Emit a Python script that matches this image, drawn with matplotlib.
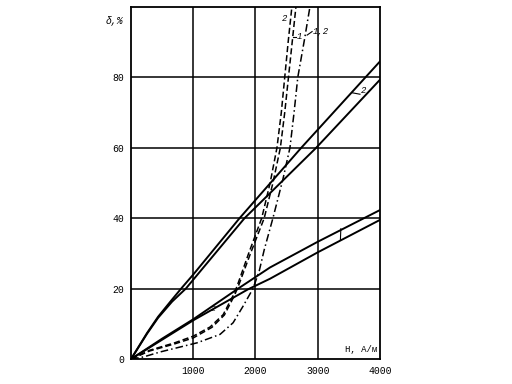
import matplotlib
matplotlib.use("Agg")
import matplotlib.pyplot as plt

# Solid curves (upper pair)
a_x = [0, 257, 434, 659, 819, 1000, 1744, 2736, 4000]
a_y = [0, 7.4, 12, 16.9, 20.3, 24, 40, 60, 84.5]
b_x = [0, 257, 434, 659, 880, 1824, 2976, 4000]
b_y = [0, 7.2, 11.7, 16.3, 20, 40, 60, 79.3]
# Solid curves (lower pair)
c_x = [0, 500, 1000, 1720, 2233, 3000, 4000]
c_y = [0, 5.8, 11.3, 20, 26, 33.3, 42.3]
d_x = [0, 1000, 1880, 2233, 3000, 4000]
d_y = [0, 11.0, 19.8, 22.8, 30.3, 39.5]
# Dashed curves
e2_x = [0, 300, 700, 1000, 1270, 1480, 1640, 1700, 1890, 2100, 2235, 2290, 2345, 2415, 2470, 2525, 2585]
e2_y = [0, 2.5, 4.6, 6.5, 9.1, 12.6, 18, 20.5, 30, 40, 50, 55, 60, 70, 80, 90, 100]
e1_x = [0, 300, 700, 1000, 1300, 1500, 1660, 1720, 1920, 2140, 2280, 2340, 2400, 2470, 2530, 2590, 2650]
e1_y = [0, 2.3, 4.3, 6.0, 9, 12.5, 18, 20.5, 30, 40, 50, 55, 60, 70, 80, 90, 100]
# Dash-dot curve
f_x = [0, 200, 465, 1060, 1430, 1640, 1800, 1960, 2060, 2140, 2280, 2440, 2554, 2620, 2680, 2790, 2875]
f_y = [0, 0.6, 2, 4.6, 7, 10.3, 15, 20, 25, 31, 40, 51, 60, 70, 80, 91, 100]

xticks = [1000, 2000, 3000, 4000]
yticks = [0, 20, 40, 60, 80]

font = "Liberation Mono"
fig = plt.figure(figsize=(5.12, 3.84), dpi=100)
ax = fig.add_axes([0.256, 0.065, 0.486, 0.917])
ax.set_xlim(0, 4000)
ax.set_ylim(0, 100)

for v in [1000, 2000, 3000]:
    ax.axvline(v, color="black", lw=1.1, zorder=1)
for v in [20, 40, 60, 80]:
    ax.axhline(v, color="black", lw=1.1, zorder=1)

lw = 1.4
ax.plot(a_x, a_y, color="black", lw=lw)
ax.plot(b_x, b_y, color="black", lw=lw)
ax.plot(c_x, c_y, color="black", lw=lw)
ax.plot(d_x, d_y, color="black", lw=lw)
ax.plot(e2_x, e2_y, color="black", lw=1.1, ls=(0, (4, 2)))
ax.plot(e1_x, e1_y, color="black", lw=1.1, ls=(0, (4, 2)))
ax.plot(f_x, f_y, color="black", lw=1.1, ls=(0, (5, 2, 1, 2)))

for s in ax.spines.values():
    s.set_linewidth(1.3)
ax.set_xticks(xticks)
ax.set_yticks(yticks)
ax.set_xticklabels([str(t) for t in xticks], fontfamily=font, fontsize=7)
ax.set_yticklabels([str(t) for t in yticks], fontfamily=font, fontsize=7)
ax.tick_params(length=0, pad=5)

ax.text(-130, 96, "δ,%", ha="right", va="center", fontsize=7, style="italic", fontfamily=font, clip_on=False)
ax.text(3950, 2.8, "Н, А/м", ha="right", va="center", fontsize=6.5, fontfamily=font,
        bbox=dict(facecolor="white", edgecolor="none", pad=1))

# curve labels
ax.text(2466, 96.8, "2", ha="center", va="center", fontsize=6.5, style="italic", fontfamily=font)
ax.text(2660, 91.5, "1", ha="left", va="center", fontsize=6.5, style="italic", fontfamily=font)
ax.plot([2610, 2655], [91.5, 91.5], color="black", lw=0.8)
ax.text(2920, 93, "1,2", ha="left", va="center", fontsize=6.5, style="italic", fontfamily=font)
ax.plot([2830, 2910], [92, 93], color="black", lw=0.8)
ax.text(3690, 76.3, "2", ha="left", va="center", fontsize=6.5, style="italic", fontfamily=font)
ax.plot([3560, 3680], [75.6, 75.2], color="black", lw=0.8)
ax.plot([3365, 3372], [33.8, 37.0], color="black", lw=0.8)
ax.text(1317, 14, "2", ha="center", va="center", fontsize=6, style="italic", fontfamily=font)

fig.savefig("out.png", dpi=100)
